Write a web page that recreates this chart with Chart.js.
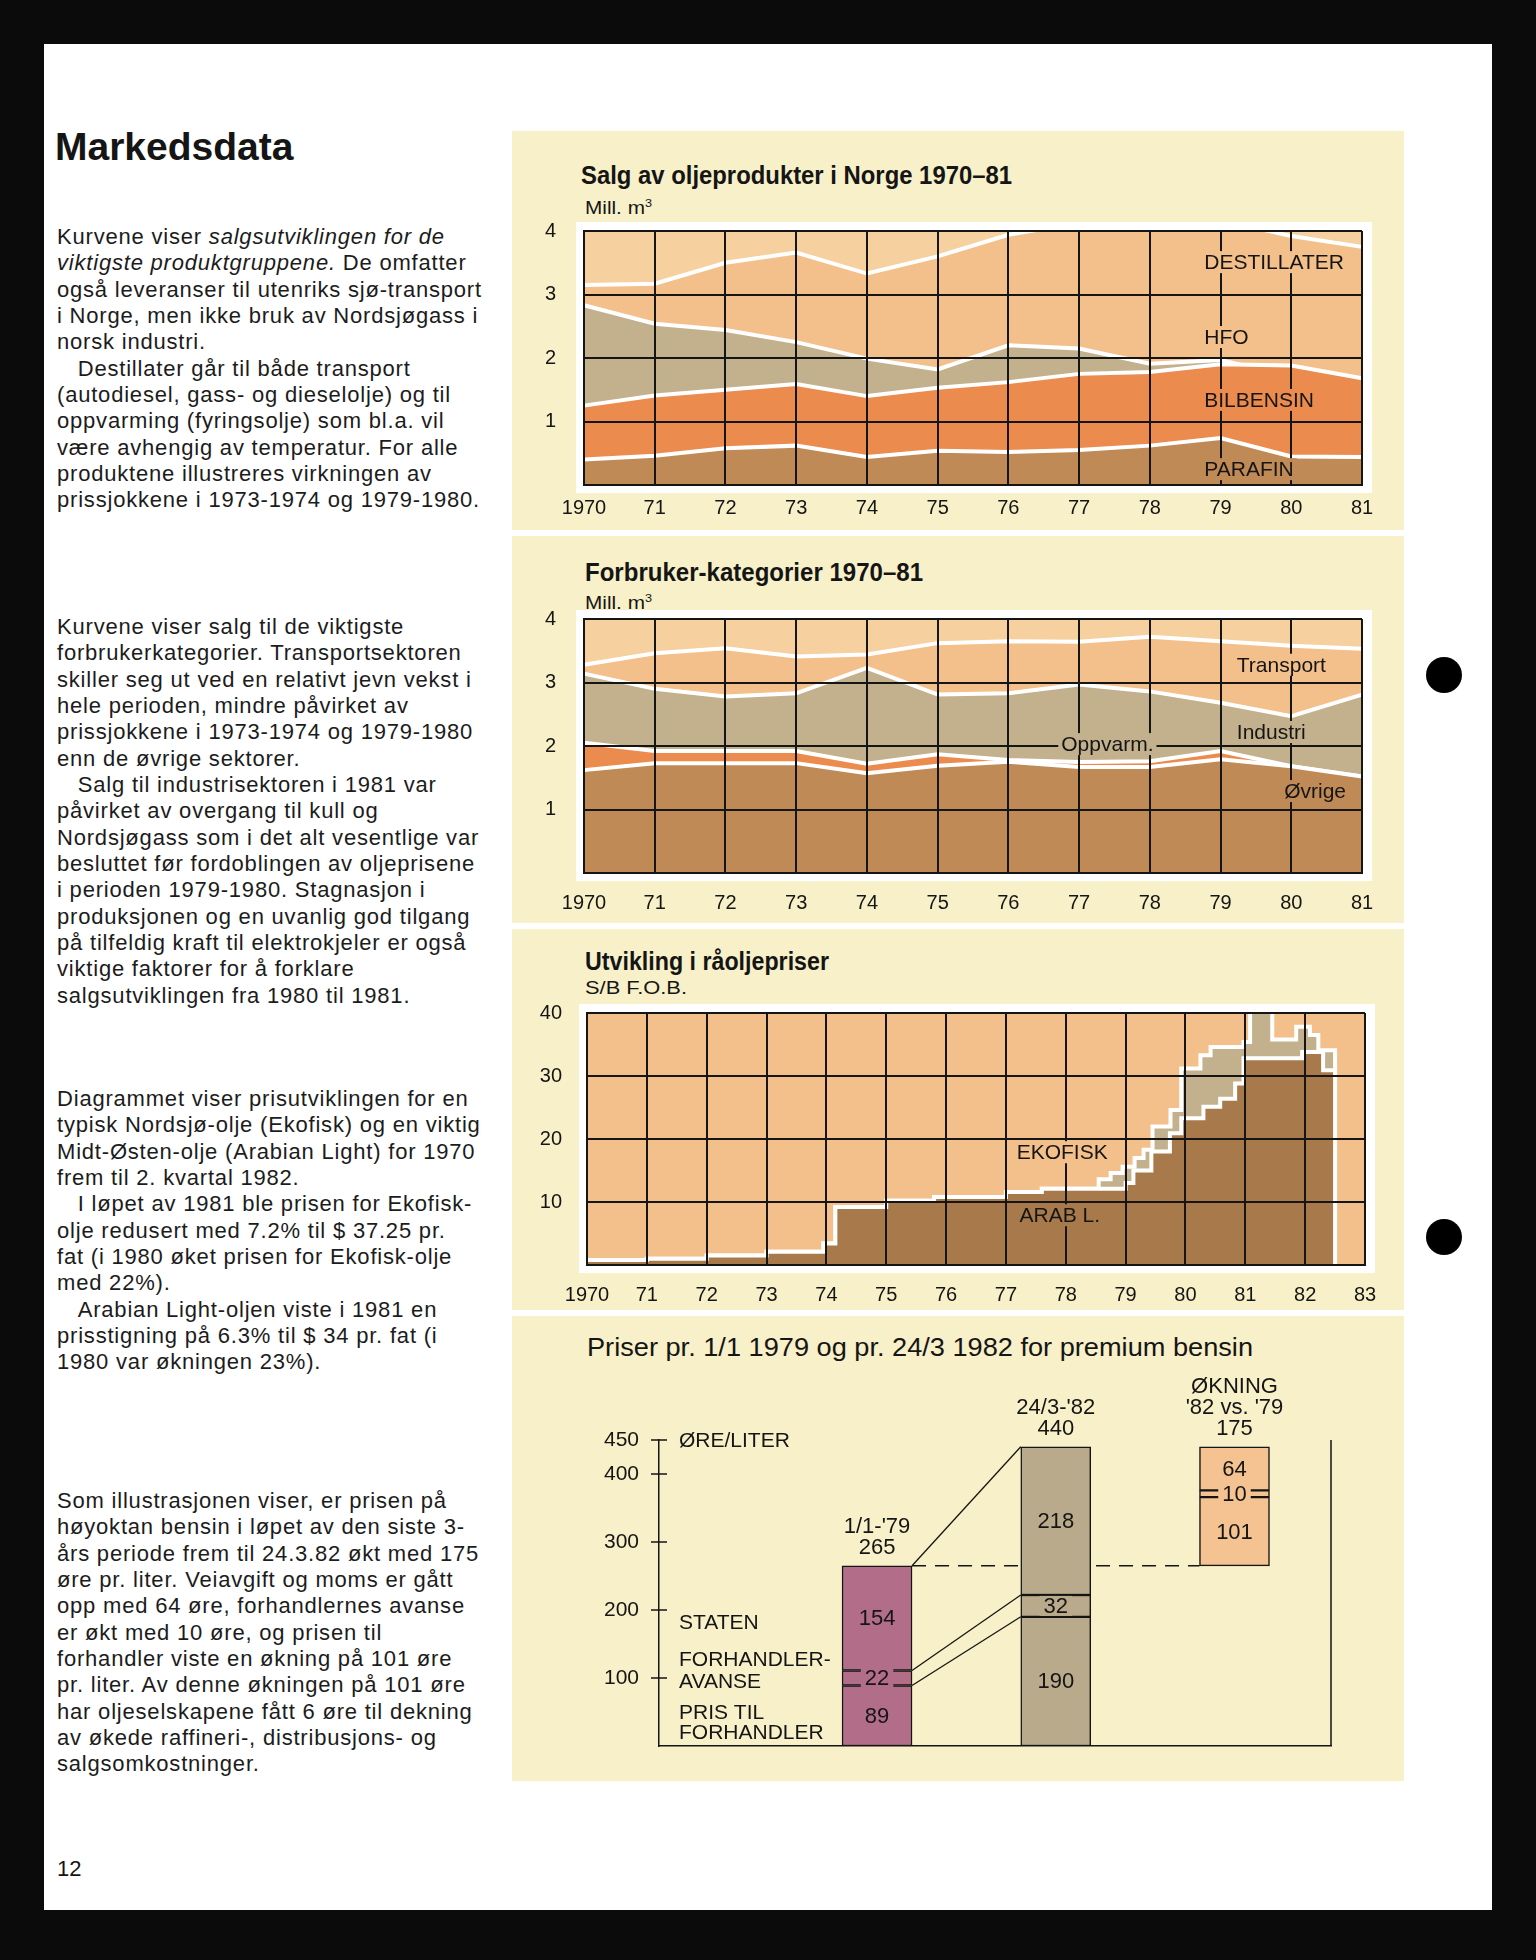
<!DOCTYPE html>
<html>
<head>
<meta charset="utf-8">
<title>Markedsdata</title>
<script src="https://cdn.jsdelivr.net/npm/chart.js@4.4.1/dist/chart.umd.min.js"></script>
<style>
  html, body { margin: 0; padding: 0; }
  body { width: 1536px; height: 1960px; background: #0b0b0b; position: relative; overflow: hidden;
         font-family: 'Liberation Sans', Arial, sans-serif; color: #151515; }
  .abs { position: absolute; }
  #page { left: 44px; top: 44px; width: 1448px; height: 1866px; background: #fff; }
  #panel { left: 512px; top: 131px; width: 892px; height: 1650px; background: #f7f0c8; }
  .gap { left: 512px; width: 892px; height: 6px; background: #fff; z-index: 2; }
  .dot { width: 36px; height: 36px; border-radius: 50%; background: #000; }
  h1 { position: absolute; left: 55px; top: 127px; margin: 0; font-size: 39px; line-height: 40px; font-weight: bold; }
  .txt { position: absolute; left: 57px; font-size: 22px; line-height: 26.35px; letter-spacing: 0.8px; white-space: nowrap; color: #1c1c1c; }
  .ctitle { position: absolute; font-weight: bold; font-size: 25px; line-height: 30px; white-space: nowrap; transform-origin: left center; }
  .csub { position: absolute; font-size: 18px; line-height: 20px; white-space: nowrap; transform-origin: left center; }
  .csub sup { font-size: 11px; }
  canvas { position: absolute; }
</style>
</head>
<body>
<div id="page" class="abs"></div>
<div id="panel" class="abs"></div>
<div class="abs gap" style="top:530px"></div>
<div class="abs gap" style="top:923px"></div>
<div class="abs gap" style="top:1310px"></div>
<div class="abs dot" style="left:1426px; top:657px"></div>
<div class="abs dot" style="left:1426px; top:1219px"></div>

<h1>Markedsdata</h1>

<div class="txt" style="top:224px">Kurvene viser <i>salgsutviklingen for de</i><br><i>viktigste produktgruppene.</i> De omfatter<br>også leveranser til utenriks sjø-transport<br>i Norge, men ikke bruk av Nordsjøgass i<br>norsk industri.<br>&nbsp;&nbsp;&nbsp;Destillater går til både transport<br>(autodiesel, gass- og dieselolje) og til<br>oppvarming (fyringsolje) som bl.a. vil<br>være avhengig av temperatur. For alle<br>produktene illustreres virkningen av<br>prissjokkene i 1973-1974 og 1979-1980.</div>

<div class="txt" style="top:614px">Kurvene viser salg til de viktigste<br>forbrukerkategorier. Transportsektoren<br>skiller seg ut ved en relativt jevn vekst i<br>hele perioden, mindre påvirket av<br>prissjokkene i 1973-1974 og 1979-1980<br>enn de øvrige sektorer.<br>&nbsp;&nbsp;&nbsp;Salg til industrisektoren i 1981 var<br>påvirket av overgang til kull og<br>Nordsjøgass som i det alt vesentlige var<br>besluttet før fordoblingen av oljeprisene<br>i perioden 1979-1980. Stagnasjon i<br>produksjonen og en uvanlig god tilgang<br>på tilfeldig kraft til elektrokjeler er også<br>viktige faktorer for å forklare<br>salgsutviklingen fra 1980 til 1981.</div>

<div class="txt" style="top:1086px">Diagrammet viser prisutviklingen for en<br>typisk Nordsjø-olje (Ekofisk) og en viktig<br>Midt-Østen-olje (Arabian Light) for 1970<br>frem til 2. kvartal 1982.<br>&nbsp;&nbsp;&nbsp;I løpet av 1981 ble prisen for Ekofisk-<br>olje redusert med 7.2% til $ 37.25 pr.<br>fat (i 1980 øket prisen for Ekofisk-olje<br>med 22%).<br>&nbsp;&nbsp;&nbsp;Arabian Light-oljen viste i 1981 en<br>prisstigning på 6.3% til $ 34 pr. fat (i<br>1980 var økningen 23%).</div>

<div class="txt" style="top:1488px">Som illustrasjonen viser, er prisen på<br>høyoktan bensin i løpet av den siste 3-<br>års periode frem til 24.3.82 økt med 175<br>øre pr. liter. Veiavgift og moms er gått<br>opp med 64 øre, forhandlernes avanse<br>er økt med 10 øre, og prisen til<br>forhandler viste en økning på 101 øre<br>pr. liter. Av denne økningen på 101 øre<br>har oljeselskapene fått 6 øre til dekning<br>av økede raffineri-, distribusjons- og<br>salgsomkostninger.</div>

<div class="abs" style="left:57px; top:1856px; font-size:22px; line-height:26px">12</div>

<div class="ctitle" data-w="431" style="left:581px; top:160px">Salg av oljeprodukter i Norge 1970–81</div>
<div class="csub" data-w="67" style="left:585px; top:193px">Mill. m<sup>3</sup></div>
<div class="ctitle" data-w="338" style="left:585px; top:557px">Forbruker-kategorier 1970–81</div>
<div class="csub" data-w="67" style="left:585px; top:588px">Mill. m<sup>3</sup></div>
<div class="ctitle" data-w="244" style="left:585px; top:946px">Utvikling i råoljepriser</div>
<div class="csub" data-w="102" style="left:585px; top:978px">S/B F.O.B.</div>
<div class="csub" data-w="666" style="left:587px; top:1333px; font-size:26px; line-height:28px">Priser pr. 1/1 1979 og pr. 24/3 1982 for premium bensin</div>

<canvas id="c1" width="892" height="400" style="left:512px; top:131px"></canvas>
<canvas id="c2" width="892" height="394" style="left:512px; top:531px"></canvas>
<canvas id="c3" width="892" height="387" style="left:512px; top:925px"></canvas>
<canvas id="c4" width="892" height="469" style="left:512px; top:1312px"></canvas>

<script>
// squeeze the chart headings to the width they have in print
document.querySelectorAll('[data-w]').forEach(el => {
  el.style.transform = 'scaleX(' + (el.dataset.w / el.getBoundingClientRect().width) + ')';
});

const FAMILY = "'Liberation Sans', Arial, sans-serif";
Chart.defaults.font.family = FAMILY;
Chart.defaults.color = '#151515';
Chart.defaults.animation = false;

const INK = '#151515';
const PEACH = '#f3c08b';
const PALE = '#f6d09e';
const KHAKI = '#c3b08d';
const ORANGE = '#ec8b4e';
const BROWN = '#c08a56';
const DARK_BROWN = '#a87a4b';

// Salg av oljeprodukter i Norge 1970-81 (top edge of each band, mill. m3)
const years = ['1970', '71', '72', '73', '74', '75', '76', '77', '78', '79', '80', '81'];
const parafin = [0.40, 0.46, 0.58, 0.62, 0.44, 0.54, 0.52, 0.55, 0.62, 0.74, 0.45, 0.44];
const bilbensin = [1.25, 1.41, 1.50, 1.59, 1.40, 1.53, 1.62, 1.75, 1.78, 1.90, 1.88, 1.68];
const hfo = [2.83, 2.54, 2.44, 2.25, 1.99, 1.82, 2.20, 2.15, 1.91, 1.97, 1.71, 1.44];
const destillater = [3.15, 3.17, 3.50, 3.66, 3.33, 3.60, 3.94, 4.13, 4.15, 4.17, 3.92, 3.75];

// Forbruker-kategorier 1970-81 (top edge of each band, mill. m3)
const ovrige = [1.62, 1.73, 1.73, 1.73, 1.57, 1.69, 1.75, 1.67, 1.67, 1.79, 1.68, 1.52];
const oppvarm = [2.05, 1.92, 1.92, 1.92, 1.72, 1.87, 1.78, 1.75, 1.76, 1.92, 1.68, 1.52];
const industri = [3.14, 2.90, 2.78, 2.83, 3.23, 2.81, 2.83, 2.97, 2.86, 2.68, 2.47, 2.81];
const transport = [3.28, 3.46, 3.54, 3.41, 3.44, 3.62, 3.65, 3.64, 3.72, 3.65, 3.58, 3.53];

// Utvikling i råoljepriser, $/fat (price holds from each date to the next)
const arabDates = [1970, 1971, 1972, 1973, 1973.95, 1974.15, 1975, 1975.8, 1977, 1977.6, 1979, 1979.13,
  1979.43, 1979.74, 1979.93, 1980.3, 1980.58, 1980.83, 1980.97, 1981.95, 1982.3, 1982.5];
const arabPrice = [0.8, 1.0, 1.5, 2.1, 3.4, 9.2, 10.2, 10.8, 11.6, 12.1, 13.0, 15.0,
  18.0, 20.9, 23.3, 25.1, 26.4, 28.8, 32.8, 33.8, 30.9, 0];
const ekoDates = [1970, 1971, 1972, 1973, 1973.95, 1974.15, 1975, 1975.8, 1977, 1977.6, 1978.55, 1978.75,
  1978.95, 1979.15, 1979.3, 1979.45, 1979.75, 1979.93, 1980.25, 1980.42, 1980.97, 1981.08, 1981.45,
  1981.85, 1982.08, 1982.22, 1982.5];
const ekoPrice = [0.8, 1.0, 1.5, 2.1, 3.4, 9.2, 10.2, 10.8, 11.6, 12.1, 13.6, 14.6,
  15.6, 17.0, 18.3, 22.0, 24.6, 31.2, 33.3, 34.6, 35.4, 41.5, 35.8,
  37.8, 36.5, 34.1, 0];

// Priser for premium bensin, øre/liter
const priceLabels = [["1/1-'79"], ["24/3-'82"], ['ØKNING', "'82 vs. '79"]];
const prisTilForhandler = [89, 190, 101];
const avanse = [22, 32, 10];
const staten = [154, 218, 64];
const priceTicks = [100, 200, 300, 400, 450];

// ---------- helpers ----------
function frame(bg) {
  return {
    id: 'frame',
    beforeDraw(chart) {
      const { ctx, chartArea: a } = chart;
      ctx.save();
      ctx.fillStyle = '#fff';
      ctx.fillRect(a.left - 8, a.top - 9, a.width + 18, a.height + 17);
      ctx.fillStyle = bg;
      ctx.fillRect(a.left, a.top, a.width, a.height);
      ctx.restore();
    }
  };
}

function tags(list) {
  return {
    id: 'tags',
    afterDraw(chart) {
      const { ctx } = chart;
      const xs = chart.scales.x, ys = chart.scales.y;
      ctx.save();
      ctx.font = '21px ' + FAMILY;
      ctx.textBaseline = 'middle';
      list.forEach(t => {
        const x = xs.getPixelForValue(t.x), y = ys.getPixelForValue(t.y);
        const w = ctx.measureText(t.text).width;
        const left = t.center ? x - w / 2 : x;
        if (t.bg) { ctx.fillStyle = t.bg; ctx.fillRect(left - 3, y - 11, w + 6, 22); }
        ctx.fillStyle = INK;
        ctx.fillText(t.text, left, y + 1);
      });
      ctx.restore();
    }
  };
}

function band(label, data, color) {
  return { label, data, fill: 'origin', backgroundColor: color, borderColor: '#fff',
           borderWidth: 4, pointRadius: 0, tension: 0 };
}

function lineOpts(top, bottomSpace, xPad) {
  return {
    responsive: false,
    layout: { padding: { top: top, right: 42, left: 0, bottom: 0 } },
    plugins: { legend: { display: false }, tooltip: { enabled: false } },
    scales: {
      x: {
        type: 'category', offset: false,
        grid: { color: INK, lineWidth: 2, drawTicks: false, z: 1 },
        border: { color: INK, width: 2, z: 1 },
        ticks: { padding: xPad, autoSkip: false, maxRotation: 0, font: { size: 20 } },
        afterFit(s) { s.height = bottomSpace; }
      },
      y: {
        min: 0, max: 4,
        grid: { color: INK, lineWidth: 2, drawTicks: false, z: 1 },
        border: { color: INK, width: 2, z: 1 },
        ticks: { stepSize: 1, padding: 28, font: { size: 20 }, callback: v => v === 0 ? '' : v },
        afterFit(s) { s.width = 72; }
      }
    }
  };
}

// ---------- chart 1 ----------
new Chart(document.getElementById('c1'), {
  type: 'line',
  data: {
    labels: years,
    datasets: [
      band('PARAFIN', parafin, BROWN),
      band('BILBENSIN', bilbensin, ORANGE),
      band('HFO', hfo, KHAKI),
      band('DESTILLATER', destillater, PEACH)
    ]
  },
  options: lineOpts(100, 46, 11),
  plugins: [frame(PALE), tags([
    { text: 'DESTILLATER', x: 8.77, y: 3.51, bg: PEACH },
    { text: 'HFO', x: 8.77, y: 2.33, bg: PEACH },
    { text: 'BILBENSIN', x: 8.77, y: 1.34, bg: ORANGE },
    { text: 'PARAFIN', x: 8.77, y: 0.25, bg: BROWN }
  ])]
});

// ---------- chart 2 ----------
new Chart(document.getElementById('c2'), {
  type: 'line',
  data: {
    labels: years,
    datasets: [
      band('Øvrige', ovrige, BROWN),
      band('Oppvarm.', oppvarm, ORANGE),
      band('Industri', industri, KHAKI),
      band('Transport', transport, PEACH)
    ]
  },
  options: lineOpts(88, 52, 18),
  plugins: [frame(PALE), tags([
    { text: 'Transport', x: 9.23, y: 3.28, bg: PEACH },
    { text: 'Industri', x: 9.23, y: 2.22, bg: KHAKI },
    { text: 'Øvrige', x: 9.9, y: 1.29, bg: BROWN },
    { text: 'Oppvarm.', x: 7.4, y: 2.03, bg: KHAKI, center: true }
  ])]
});

// ---------- chart 3 ----------
const steps = (dates, prices) => dates.map((d, i) => ({ x: d, y: prices[i] }));
new Chart(document.getElementById('c3'), {
  type: 'line',
  data: {
    datasets: [
      { label: 'ARAB L.', data: steps(arabDates, arabPrice), stepped: true, fill: 'origin',
        backgroundColor: DARK_BROWN, borderColor: '#fff', borderWidth: 4, pointRadius: 0 },
      { label: 'EKOFISK', data: steps(ekoDates, ekoPrice), stepped: true, fill: 'origin',
        backgroundColor: KHAKI, borderColor: '#fff', borderWidth: 4, pointRadius: 0 }
    ]
  },
  options: {
    responsive: false,
    layout: { padding: { top: 88, right: 39, left: 0, bottom: 0 } },
    plugins: { legend: { display: false }, tooltip: { enabled: false } },
    scales: {
      x: {
        type: 'linear', min: 1970, max: 1983,
        grid: { color: INK, lineWidth: 2, drawTicks: false, z: 1 },
        border: { color: INK, width: 2, z: 1 },
        ticks: { stepSize: 1, padding: 18, maxRotation: 0, font: { size: 20 },
                 callback: v => v === 1970 ? '1970' : String(v).slice(2) },
        afterFit(s) { s.height = 47; }
      },
      y: {
        min: 0, max: 40,
        grid: { color: INK, lineWidth: 2, drawTicks: false, z: 1 },
        border: { color: INK, width: 2, z: 1 },
        ticks: { stepSize: 10, padding: 25, font: { size: 20 }, callback: v => v === 0 ? '' : v },
        afterFit(s) { s.width = 75; }
      }
    }
  },
  plugins: [frame(PEACH), tags([
    { text: 'EKOFISK', x: 1977.94, y: 17.9, bg: PEACH, center: true },
    { text: 'ARAB L.', x: 1977.9, y: 7.9, bg: DARK_BROWN, center: true }
  ])]
});

// ---------- chart 4 ----------
const barColors = ['#b26d88', '#b9aa8b', '#f4c391'];
const segmentSets = [prisTilForhandler, avanse, staten];
const totals = prisTilForhandler.map((v, j) => v + avanse[j] + staten[j]);
const running = [0, 0, totals[0]];
const priceDatasets = segmentSets.map((vals, k) => ({
  label: ['Pris til forhandler', 'Forhandleravanse', 'Staten'][k],
  data: vals.map((v, j) => { const d = { x: j, y: [running[j], running[j] + v] }; running[j] += v; return d; }),
  backgroundColor: barColors, borderColor: INK, borderWidth: 1.5, borderSkipped: false,
  barThickness: 70, grouped: false
}));

const priceDecor = {
  id: 'priceDecor',
  beforeDatasetsDraw(chart) {
    const { ctx } = chart;
    const ys = chart.scales.y;
    const bar = (k, j) => chart.getDatasetMeta(k).data[j];
    ctx.save();
    ctx.strokeStyle = INK;
    ctx.lineWidth = 1.3;
    // connectors between the two price columns
    for (let k = 0; k < 3; k++) {
      const a = bar(k, 0), b = bar(k, 1);
      ctx.beginPath();
      ctx.moveTo(a.x + a.width / 2, a.y);
      ctx.lineTo(b.x - b.width / 2, b.y);
      ctx.stroke();
    }
    // 1979 level carried across to the increase column
    const a = bar(2, 0), c = bar(0, 2);
    ctx.setLineDash([14, 9]);
    ctx.lineWidth = 1.5;
    ctx.beginPath();
    ctx.moveTo(a.x + a.width / 2, ys.getPixelForValue(totals[0]));
    ctx.lineTo(c.x - c.width / 2, ys.getPixelForValue(totals[0]));
    ctx.stroke();
    ctx.restore();
  },
  afterDraw(chart) {
    const { ctx, chartArea: area } = chart;
    const ys = chart.scales.y;
    ctx.save();
    ctx.strokeStyle = INK;
    ctx.lineWidth = 1.5;
    // tick marks across the axis and the right-hand frame line
    priceTicks.forEach(v => {
      const y = ys.getPixelForValue(v);
      ctx.beginPath(); ctx.moveTo(area.left - 8, y); ctx.lineTo(area.left + 8, y); ctx.stroke();
    });
    ctx.beginPath(); ctx.moveTo(area.right, area.top); ctx.lineTo(area.right, area.bottom); ctx.stroke();

    ctx.font = '22px ' + FAMILY;
    ctx.textAlign = 'center';
    ctx.textBaseline = 'middle';
    // values inside each segment
    priceDatasets.forEach((ds, k) => {
      const meta = chart.getDatasetMeta(k);
      ds.data.forEach((d, j) => {
        const el = meta.data[j];
        const y = (el.y + el.base) / 2;
        const txt = String(d.y[1] - d.y[0]);
        const w = ctx.measureText(txt).width;
        ctx.fillStyle = barColors[j];
        ctx.fillRect(el.x - w / 2 - 4, y - 10, w + 8, 20);
        ctx.fillStyle = INK;
        ctx.fillText(txt, el.x, y + 1);
      });
    });
    // heading above each column
    const increase = totals[1] - totals[0];
    priceLabels.forEach((lines, j) => {
      const el = chart.getDatasetMeta(2).data[j];
      const all = lines.concat([String(j === 2 ? increase : totals[j])]);
      all.forEach((t, i) => {
        ctx.fillText(t, el.x, el.y - 18 - (all.length - 1 - i) * 21);
      });
    });
    // side captions
    ctx.font = '21px ' + FAMILY;
    ctx.textAlign = 'left';
    [['ØRE/LITER', 450], ['STATEN', 182], ['FORHANDLER-', 127], ['AVANSE', 96], ['PRIS TIL', 50], ['FORHANDLER', 21]]
      .forEach(([t, v]) => ctx.fillText(t, area.left + 20, ys.getPixelForValue(v) + 1));
    ctx.restore();
  }
};

new Chart(document.getElementById('c4'), {
  type: 'bar',
  data: { datasets: priceDatasets },
  options: {
    responsive: false,
    layout: { padding: { top: 128, right: 73, left: 0, bottom: 0 } },
    plugins: { legend: { display: false }, tooltip: { enabled: false } },
    scales: {
      x: {
        type: 'linear', min: -1.22, max: 2.54, offset: false,
        grid: { drawOnChartArea: false, drawTicks: false, offset: false },
        border: { color: INK, width: 1.5 },
        ticks: { display: false },
        afterFit(s) { s.height = 35; }
      },
      y: {
        min: 0, max: 450,
        grid: { drawOnChartArea: false, drawTicks: false },
        border: { color: INK, width: 1.5 },
        ticks: { padding: 20, font: { size: 21 } },
        afterBuildTicks(s) { s.ticks = priceTicks.map(v => ({ value: v })); },
        afterFit(s) { s.width = 147; }
      }
    }
  },
  plugins: [priceDecor]
});
</script>
</body>
</html>
